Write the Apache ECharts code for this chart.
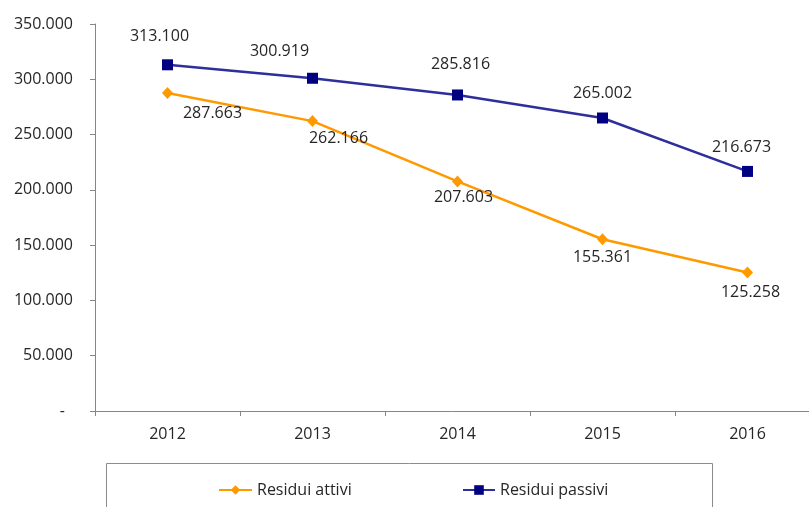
<!DOCTYPE html>
<html>
<head>
<meta charset="utf-8">
<script src="https://cdn.jsdelivr.net/npm/echarts@6/dist/echarts.min.js"></script>
<style>
html,body{margin:0;padding:0;background:#fff;}
#c{width:809px;height:507px;}
</style>
</head>
<body>
<div id="c"></div>
<script>
var categories = ['2012', '2013', '2014', '2015', '2016'];
var residuiAttivi = [287663, 262166, 207603, 155361, 125258];
var residuiPassivi = [313100, 300919, 285816, 265002, 216673];
var yMin = 0, yMax = 350000, yStep = 50000;

// label placement (style, not data)
var attiviLabelOffsets = [[45, 21], [26, 17], [6, 16], [0, 18], [3, 20]];
var passiviLabelOffsets = [[-8, -28], [-33, -27], [3, -31], [0, -25], [-6, -24]];

function fmt(v) {
  return String(Math.round(v)).replace(/\B(?=(\d{3})+(?!\d))/g, '.');
}
var FONT = 'Open Sans';
var TXT = '#262626';
var AX = '#868686';

function buildData(vals, offs) {
  return vals.map(function (v, i) {
    return { value: v, label: { offset: offs[i] } };
  });
}

var chart = echarts.init(document.getElementById('c'), null, { renderer: 'canvas' });
chart.setOption({
  animation: false,
  backgroundColor: '#fff',
  textStyle: { fontFamily: FONT },
  grid: { left: 95, width: 725, top: 24, height: 387, containLabel: false, outerBoundsMode: 'none' },
  xAxis: {
    type: 'category',
    data: categories,
    boundaryGap: true,
    axisLine: { lineStyle: { color: AX, width: 1 } },
    axisTick: { show: true, length: 5, lineStyle: { color: AX } },
    axisLabel: { color: TXT, fontSize: 16, fontFamily: FONT, margin: 15 }
  },
  yAxis: {
    type: 'value',
    min: yMin, max: yMax, interval: yStep,
    axisLine: { show: true, lineStyle: { color: AX, width: 1 } },
    axisTick: { show: true, length: 5, lineStyle: { color: AX } },
    splitLine: { show: false },
    axisLabel: {
      color: TXT, fontSize: 16, fontFamily: FONT, margin: 22,
      formatter: function (v) { return v === 0 ? '{d|-}' : fmt(v); },
      rich: { d: { fontSize: 16, fontFamily: FONT, color: TXT, padding: [0, 8, 0, 0] } }
    }
  },
  legend: [{
    data: ['Residui attivi'],
    left: 213, top: 477,
    itemWidth: 33, itemHeight: 12,
    textStyle: { color: TXT, fontSize: 16, fontFamily: FONT }
  }, {
    data: ['Residui passivi'],
    left: 457, top: 477,
    itemWidth: 32, itemHeight: 12,
    textStyle: { color: TXT, fontSize: 16, fontFamily: FONT }
  }],
  graphic: [{
    type: 'rect',
    shape: { x: 106.5, y: 463.5, width: 606, height: 60 },
    style: { fill: 'none', stroke: '#8c8c8c', lineWidth: 1 },
    silent: true
  }],
  series: [{
    name: 'Residui attivi',
    type: 'line',
    data: buildData(residuiAttivi, attiviLabelOffsets),
    symbol: 'diamond',
    symbolSize: [11, 12],
    lineStyle: { color: '#FF9900', width: 2.5 },
    itemStyle: { color: '#FF9900' },
    label: {
      show: true, position: 'inside', color: TXT, fontSize: 16, fontFamily: FONT,
      formatter: function (p) { return fmt(p.value); }
    },
    z: 3
  }, {
    name: 'Residui passivi',
    type: 'line',
    data: buildData(residuiPassivi, passiviLabelOffsets),
    symbol: 'rect',
    symbolSize: 11,
    lineStyle: { color: '#2E2E9C', width: 2.5 },
    itemStyle: { color: '#000080' },
    label: {
      show: true, position: 'inside', color: TXT, fontSize: 16, fontFamily: FONT,
      formatter: function (p) { return fmt(p.value); }
    },
    z: 4
  }]
});
</script>
</body>
</html>
